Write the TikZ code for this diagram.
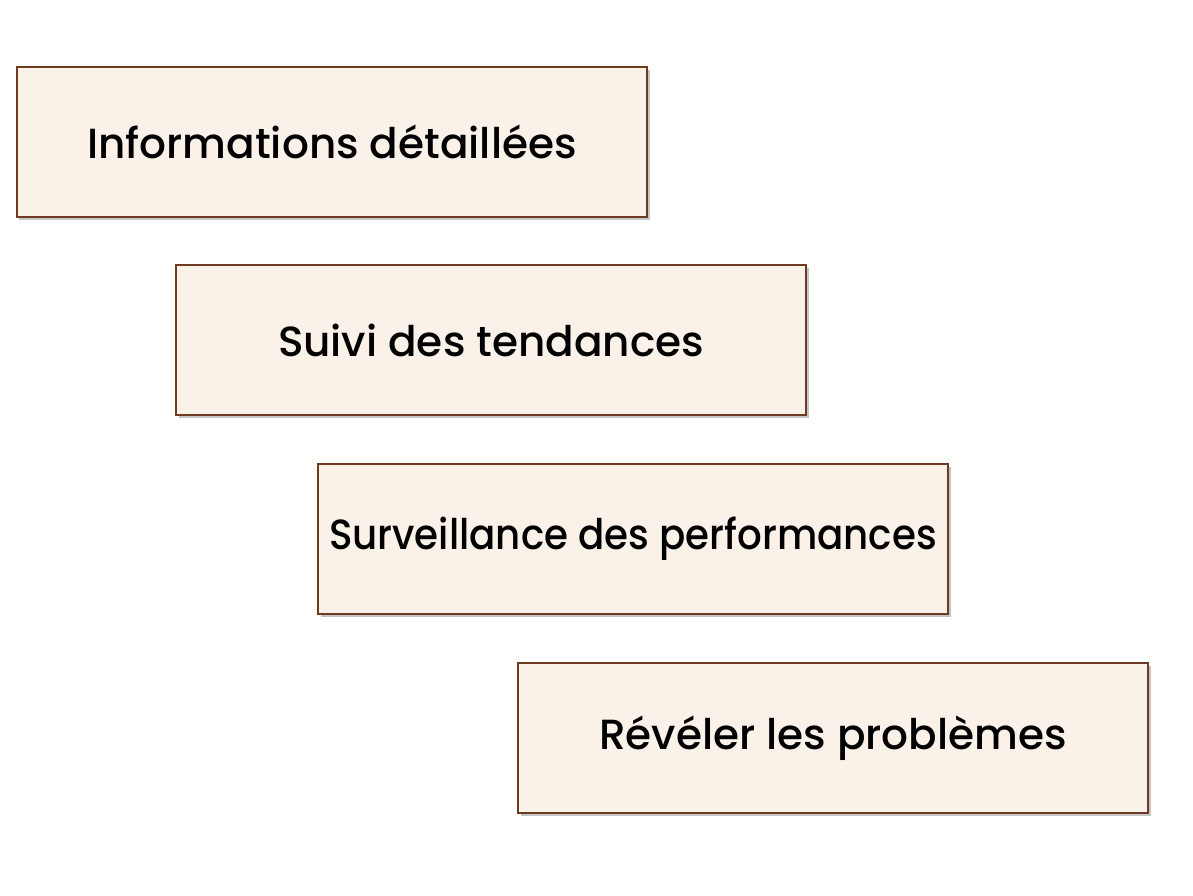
\documentclass[tikz,border=0pt]{standalone}
\usepackage{fontspec}
\setmainfont{Poppins}[UprightFont={* Medium}]
\usetikzlibrary{positioning,shadows}
\definecolor{boxfill}{HTML}{FAF1E8}
\definecolor{boxline}{HTML}{6E3B22}
\tikzset{
	every picture/.style={/utils/exec={\rmfamily}},
	stepbox/.style={draw=boxline, fill=boxfill, line width=1.6pt, rectangle,
		minimum width=12.6cm, minimum height=3cm, inner sep=0pt,
		font=\fontsize{24}{28}\selectfont,
		drop shadow={shadow xshift=0.05cm, shadow yshift=-0.06cm, opacity=0.45}},
}
\begin{document}
\begin{tikzpicture}
			\fill[white!98!boxfill] (0,0) rectangle (23.86,17.92);
			\useasboundingbox (0,0) rectangle (23.86,17.92);
			\node[stepbox] (details) at (6.64,15.08) {Informations détaillées};
			\node[stepbox] (trends) at (9.82,11.12) {Suivi des tendances};
			\node[stepbox] (perf) at (12.66,7.14) {\scalebox{0.92}[1]{Surveillance des performances}};
			\node[stepbox] (issues) at (16.66,3.16) {Révéler les problèmes};
		\end{tikzpicture}
\end{document}
